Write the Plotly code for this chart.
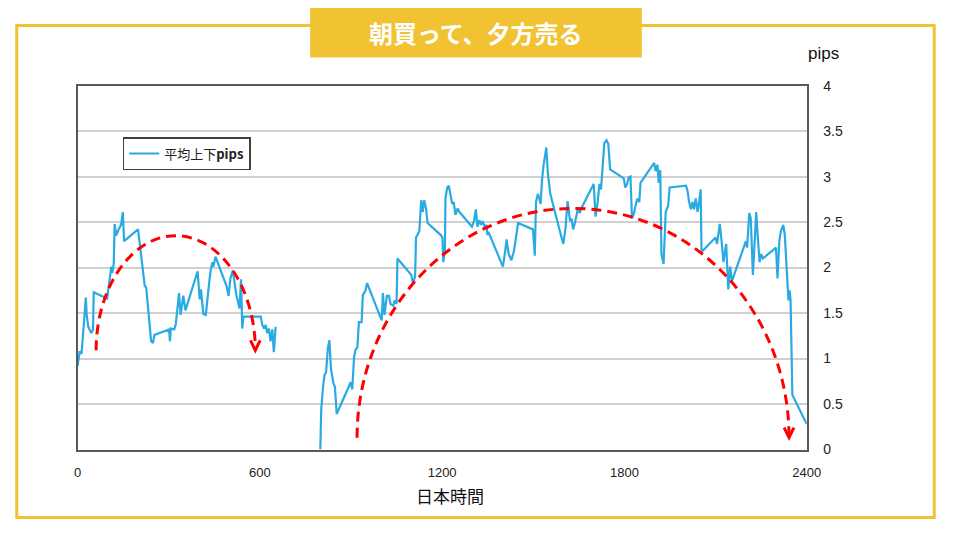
import plotly.graph_objects as go

# ---- data (time in HHMM-like units, average pips range) ----
morning_x = [0, 7, 13, 18, 22, 27, 30, 35, 40, 45, 51, 53, 97, 102, 106, 111, 114, 119, 122, 127,
             135, 143, 149, 153, 199, 215, 221, 226, 237, 242, 248, 253, 301, 304, 307, 318, 323,
             334, 339, 348, 355, 395, 402, 406, 414, 422, 433, 438, 444, 447, 454, 490, 497, 503,
             511, 522, 533, 538, 542, 546, 603, 608, 614, 619, 624, 630, 635, 641, 646, 652]
morning_y = [0.92, 1.08, 1.05, 1.33, 1.44, 1.67, 1.48, 1.35, 1.32, 1.28, 1.32, 1.73, 1.66, 1.81, 1.92,
             2.01, 1.94, 2.04, 2.48, 2.35, 2.42, 2.47, 2.61, 2.29, 2.42, 2.01, 1.80, 1.78, 1.37, 1.19,
             1.17, 1.26, 1.32, 1.19, 1.33, 1.32, 1.37, 1.72, 1.48, 1.69, 1.53, 1.96, 1.65, 1.76, 1.49,
             1.48, 1.83, 1.97, 2.06, 2.01, 2.12, 1.80, 1.69, 1.88, 1.97, 1.71, 1.55, 1.87, 1.33, 1.46,
             1.46, 1.37, 1.33, 1.37, 1.28, 1.33, 1.19, 1.32, 1.07, 1.35]

day_x = [799, 802, 808, 813, 818, 824, 829, 834, 842, 847, 853, 899, 904, 910, 915, 921, 926, 935, 939,
         947, 953, 996, 1001, 1005, 1010, 1018, 1025, 1030, 1039, 1044, 1050, 1053, 1098, 1104, 1111,
         1114, 1125, 1131, 1136, 1141, 1147, 1152, 1195, 1201, 1204, 1209, 1211, 1217, 1222, 1227, 1233,
         1238, 1244, 1251, 1257, 1298, 1305, 1311, 1316, 1322, 1328, 1333, 1341, 1346, 1349, 1354, 1400,
         1408, 1412, 1419, 1428, 1437, 1450, 1499, 1505, 1509, 1515, 1520, 1524, 1529, 1534, 1543, 1548,
         1556, 1569, 1577, 1593, 1599, 1606, 1613, 1621, 1626, 1631, 1637, 1642, 1647, 1653, 1658, 1699,
         1705, 1712, 1718, 1723, 1728, 1734, 1741, 1747, 1753, 1798, 1803, 1809, 1814, 1820, 1825, 1831,
         1838, 1843, 1849, 1853, 1898, 1903, 1909, 1913, 1918, 1922, 1929, 1936, 1944, 1949, 2003, 2008,
         2013, 2019, 2024, 2029, 2035, 2041, 2046, 2051, 2054, 2100, 2105, 2114, 2121, 2126, 2135, 2142,
         2148, 2154, 2200, 2204, 2211, 2216, 2223, 2229, 2234, 2239, 2245, 2250, 2256, 2299, 2304, 2310,
         2315, 2323, 2328, 2333, 2340, 2344, 2347, 2353, 2400]
day_y = [0.0, 0.44, 0.69, 0.82, 0.85, 1.12, 1.20, 0.89, 0.73, 0.69, 0.39, 0.74, 0.66, 1.01, 1.10, 1.12,
         1.40, 1.40, 1.70, 1.74, 1.83, 1.46, 1.42, 1.72, 1.48, 1.69, 1.69, 1.60, 1.58, 1.64, 1.60, 2.10,
         1.92, 1.83, 1.90, 2.33, 2.40, 2.74, 2.61, 2.74, 2.65, 2.49, 2.36, 2.33, 2.06, 2.19, 2.76, 2.88,
         2.90, 2.81, 2.70, 2.72, 2.58, 2.65, 2.61, 2.45, 2.51, 2.64, 2.45, 2.52, 2.47, 2.51, 2.44, 2.47,
         2.36, 2.38, 2.01, 2.19, 2.31, 2.15, 2.08, 2.19, 2.49, 2.42, 2.13, 2.72, 2.81, 2.76, 2.70, 2.97,
         3.13, 3.32, 3.04, 2.81, 2.63, 2.54, 2.33, 2.26, 2.43, 2.73, 2.51, 2.54, 2.42, 2.49, 2.58, 2.65,
         2.60, 2.65, 2.92, 2.56, 2.72, 2.92, 2.86, 3.06, 3.37, 3.40, 3.36, 3.08, 2.98, 2.88, 2.92, 2.99,
         3.00, 2.54, 2.59, 2.70, 2.76, 2.72, 2.93, 3.15, 3.06, 3.13, 2.93, 3.07, 2.15, 2.04, 2.61, 2.68,
         2.88, 2.90, 2.84, 2.72, 2.64, 2.72, 2.64, 2.76, 2.61, 2.72, 2.86, 2.17, 2.33, 2.26, 2.48, 2.26,
         2.06, 2.26, 1.76, 2.01, 1.85, 2.29, 2.22, 2.60, 2.54, 1.92, 2.34, 2.61, 2.34, 2.06, 2.15, 2.10,
         2.22, 1.88, 2.29, 2.40, 2.47, 2.36, 2.06, 1.64, 1.75, 1.64, 0.60, 0.28]

x_ticks = [0, 600, 1200, 1800, 2400]
y_ticks = [0, 0.5, 1, 1.5, 2, 2.5, 3, 3.5, 4]
y_tick_text = ["0", "0.5", "1", "1.5", "2", "2.5", "3", "3.5", "4"]

series_name = "平均上下<b>pips</b>"
title_text = "朝買って、夕方売る"
x_title = "日本時間"
y_unit = "pips"

# decorative arcs (half ellipses in data units): centre x, base y, radius x, radius y
arcs = [
    dict(cx=323, cy=1.09, rx=262, ry=1.26),
    dict(cx=1631, cy=0.13, rx=711, ry=2.52),
]

LINE = "#29ABE2"
YELLOW = "#F1C232"
RED = "#FF0000"
FONT = "Arial, 'Liberation Sans', 'Noto Sans CJK JP', sans-serif"
CJK = "'Noto Sans CJK JP', Arial, sans-serif"

x_all = morning_x + [None] + day_x
y_all = morning_y + [None] + day_y

fig = go.Figure()
fig.add_trace(go.Scatter(
    x=x_all, y=y_all, mode="lines", name=series_name,
    line=dict(color=LINE, width=2.2), connectgaps=False, showlegend=True,
))

W, H = 960, 540
px0, px1, py0, py1 = 75, 818, 80, 455

shapes = []
k = 0.5523
for a in arcs:
    cx, cy, rx, ry = a["cx"], a["cy"], a["rx"], a["ry"]
    path = (f"M {cx-rx},{cy} C {cx-rx},{cy+k*ry} {cx-k*rx},{cy+ry} {cx},{cy+ry} "
            f"C {cx+k*rx},{cy+ry} {cx+rx},{cy+k*ry} {cx+rx},{cy}")
    shapes.append(dict(type="path", xref="x", yref="y", path=path,
                       line=dict(color=RED, width=3, dash="10px,6px"), layer="above"))
    tx, ty = cx + rx, cy
    dx, dy = 16, 0.11
    shapes.append(dict(type="path", xref="x", yref="y",
                       path=f"M {tx-dx},{ty+dy} L {tx},{ty} L {tx+dx},{ty+dy}",
                       line=dict(color=RED, width=3), layer="above"))

# outer yellow frame
shapes.append(dict(type="rect", xref="paper", yref="paper",
                   x0=13/W, x1=948/W, y0=1-525/H, y1=1-18/H,
                   line=dict(color=YELLOW, width=3), fillcolor="rgba(0,0,0,0)", layer="below"))
# title box
shapes.append(dict(type="rect", xref="paper", yref="paper",
                   x0=312/W, x1=650/W, y0=1-51/H, y1=1.0,
                   line=dict(width=0), fillcolor=YELLOW, layer="above"))

annotations = [
    dict(text=f"<b>{title_text}</b>", xref="paper", yref="paper", x=481/W, y=1-25/H,
         showarrow=False, font=dict(family=CJK, size=24, color="white"),
         xanchor="center", yanchor="middle"),
    dict(text=y_unit, xref="paper", yref="paper", x=835/W, y=1-47/H,
         showarrow=False, font=dict(family=FONT, size=17, color="#111111"),
         xanchor="center", yanchor="middle"),
    dict(text=x_title, xref="paper", yref="paper", x=455/W, y=1-502/H,
         showarrow=False, font=dict(family=CJK, size=17, color="#111111"),
         xanchor="center", yanchor="middle"),
]

fig.update_layout(
    width=W, height=H,
    margin=dict(l=0, r=0, t=0, b=0),
    paper_bgcolor="white", plot_bgcolor="white",
    shapes=shapes, annotations=annotations,
    showlegend=True,
    legend=dict(x=121/W, y=1-133/H, xanchor="left", yanchor="top",
                bgcolor="white", bordercolor="#404040", borderwidth=1.5,
                font=dict(family=CJK, size=13, color="#222222"),
                itemwidth=30, tracegroupgap=0),
    xaxis=dict(domain=[px0/W, px1/W], range=[0, 2400],
               tickvals=x_ticks, ticktext=[str(v) for v in x_ticks],
               showgrid=False, zeroline=False,
               showline=True, linecolor="#595959", linewidth=1.5, mirror=True,
               ticks="", ticklabelstandoff=10,
               tickfont=dict(family=FONT, size=13, color="#222222")),
    yaxis=dict(domain=[1-py1/H, 1-py0/H], range=[0, 4], side="right",
               tickvals=y_ticks, ticktext=y_tick_text,
               showgrid=True, gridcolor="#D0D0D0", gridwidth=1.5, zeroline=False,
               showline=True, linecolor="#595959", linewidth=1.5, mirror=True,
               ticks="", ticklabelstandoff=12,
               tickfont=dict(family=FONT, size=14, color="#222222")),
)

fig.write_html("out.html")
